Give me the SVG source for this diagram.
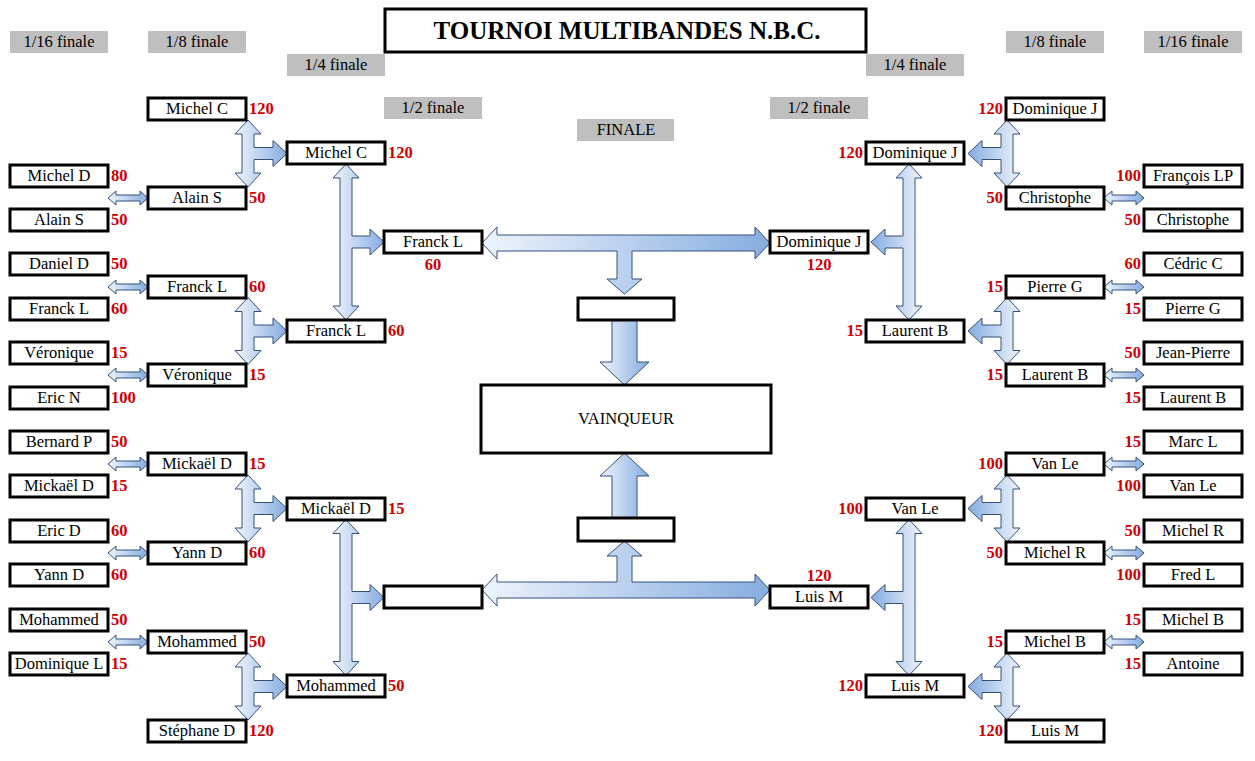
<svg xmlns="http://www.w3.org/2000/svg" xmlns:xlink="http://www.w3.org/1999/xlink" width="1255" height="761" viewBox="0 0 1255 761">
<style>
.b{fill:#fff;stroke:#000;stroke-width:3}
.t{font-family:"Liberation Serif",serif;font-size:16.5px;text-anchor:middle;fill:#000}
.s{font-family:"Liberation Serif",serif;font-size:16.5px;font-weight:bold;fill:#d00000}
.e{text-anchor:end}
.h{fill:#bfbfbf}
.a{fill:url(#g);stroke:#34507a;stroke-width:1}
</style>
<defs>
<linearGradient id="g" x1="0" y1="0" x2="1" y2="0"><stop offset="0" stop-color="#eef4fc"/><stop offset="1" stop-color="#86ace0"/></linearGradient>
<path id="p8" d="M0,-33.5 L13,-19.5 L6,-19.5 L6,-6 L25,-6 L25,-13 L39,0 L25,13 L25,6 L6,6 L6,19.5 L13,19.5 L0,33.5 L-13,19.5 L-6,19.5 L-6,-19.5 L-13,-19.5 Z"/>
<path id="p4" d="M0,-78 L13,-64 L6,-64 L6,-6 L24,-6 L24,-13 L38,0 L24,13 L24,6 L6,6 L6,64 L13,64 L0,78 L-13,64 L-6,64 L-6,-64 L-13,-64 Z"/>
<path id="ps" d="M0,0 L8,-7 L8,-3 L32,-3 L32,-7 L40,0 L32,7 L32,3 L8,3 L8,7 Z"/>
</defs>
<g id="headers">
<rect x="385" y="9" width="481" height="43" class="b"/>
<text x="627" y="39" class="t" style="font-size:25px;font-weight:bold">TOURNOI MULTIBANDES N.B.C.</text>
<rect class="h" x="10" y="31" width="98" height="22"/><text class="t" x="59" y="47">1/16 finale</text>
<rect class="h" x="148" y="31" width="98" height="22"/><text class="t" x="197" y="47">1/8 finale</text>
<rect class="h" x="287" y="54" width="98" height="22"/><text class="t" x="336" y="70">1/4 finale</text>
<rect class="h" x="384" y="97" width="98" height="22"/><text class="t" x="433" y="113">1/2 finale</text>
<rect class="h" x="577" y="119" width="97" height="22"/><text class="t" x="626" y="135">FINALE</text>
<rect class="h" x="770" y="97" width="98" height="22"/><text class="t" x="819" y="113">1/2 finale</text>
<rect class="h" x="866" y="54" width="98" height="22"/><text class="t" x="915" y="70">1/4 finale</text>
<rect class="h" x="1006" y="31" width="98" height="22"/><text class="t" x="1055" y="47">1/8 finale</text>
<rect class="h" x="1144" y="31" width="98" height="22"/><text class="t" x="1193" y="47">1/16 finale</text>
</g>
<g id="connectors" class="a">
<use href="#ps" transform="translate(108,198)"/><use href="#ps" transform="translate(108,287)"/><use href="#ps" transform="translate(108,375)"/><use href="#ps" transform="translate(108,464)"/><use href="#ps" transform="translate(108,553)"/><use href="#ps" transform="translate(108,642)"/>
<use href="#ps" transform="translate(1104,198)"/><use href="#ps" transform="translate(1104,287)"/><use href="#ps" transform="translate(1104,375)"/><use href="#ps" transform="translate(1104,464)"/><use href="#ps" transform="translate(1104,553)"/><use href="#ps" transform="translate(1104,642)"/>
<use href="#p8" transform="translate(248,153.5)"/><use href="#p8" transform="translate(248,331)"/><use href="#p8" transform="translate(248,508.5)"/><use href="#p8" transform="translate(248,686.5)"/>
<use href="#p8" transform="translate(1007,153.5) scale(-1,1)"/><use href="#p8" transform="translate(1007,331) scale(-1,1)"/><use href="#p8" transform="translate(1007,508.5) scale(-1,1)"/><use href="#p8" transform="translate(1007,686.5) scale(-1,1)"/>
<use href="#p4" transform="translate(346,242)"/><use href="#p4" transform="translate(346,597.5)"/>
<use href="#p4" transform="translate(909,242) scale(-1,1)"/><use href="#p4" transform="translate(909,597.5) scale(-1,1)"/>
<path d="M482,243 L497,227 L497,235 L755,235 L755,227 L770,243 L755,259 L755,251 L632,251 L632,279 L642,279 L624.5,294 L607,279 L617,279 L617,251 L497,251 L497,259 Z"/>
<path d="M482,590 L497,574 L497,582 L617,582 L617,556 L607,556 L624.5,541 L642,556 L632,556 L632,582 L755,582 L755,574 L770,590 L755,606 L755,598 L497,598 L497,606 Z"/>
<path d="M612,320 L637,320 L637,362 L649,362 L624.5,385 L600,362 L612,362 Z"/>
<path d="M612,518 L637,518 L637,476 L649,476 L624.5,453 L600,476 L612,476 Z"/>
</g>
<g id="center">
<rect class="b" x="578" y="298" width="96" height="22"/>
<rect class="b" x="578" y="518" width="96" height="23"/>
<rect class="b" x="481" y="385" width="290" height="68"/><text class="t" x="626" y="424">VAINQUEUR</text>
</g>
<g id="left16">
<rect class="b" x="10" y="165" width="98" height="22"/><text class="t" x="59" y="181">Michel D</text><text class="s" x="111" y="181">80</text>
<rect class="b" x="10" y="209" width="98" height="22"/><text class="t" x="59" y="225">Alain S</text><text class="s" x="111" y="225">50</text>
<rect class="b" x="10" y="253" width="98" height="22"/><text class="t" x="59" y="269">Daniel D</text><text class="s" x="111" y="269">50</text>
<rect class="b" x="10" y="298" width="98" height="22"/><text class="t" x="59" y="314">Franck L</text><text class="s" x="111" y="314">60</text>
<rect class="b" x="10" y="342" width="98" height="22"/><text class="t" x="59" y="358">Véronique</text><text class="s" x="111" y="358">15</text>
<rect class="b" x="10" y="387" width="98" height="22"/><text class="t" x="59" y="403">Eric N</text><text class="s" x="111" y="403">100</text>
<rect class="b" x="10" y="431" width="98" height="22"/><text class="t" x="59" y="447">Bernard P</text><text class="s" x="111" y="447">50</text>
<rect class="b" x="10" y="475" width="98" height="22"/><text class="t" x="59" y="491">Mickaël D</text><text class="s" x="111" y="491">15</text>
<rect class="b" x="10" y="520" width="98" height="22"/><text class="t" x="59" y="536">Eric D</text><text class="s" x="111" y="536">60</text>
<rect class="b" x="10" y="564" width="98" height="22"/><text class="t" x="59" y="580">Yann D</text><text class="s" x="111" y="580">60</text>
<rect class="b" x="10" y="609" width="98" height="22"/><text class="t" x="59" y="625">Mohammed</text><text class="s" x="111" y="625">50</text>
<rect class="b" x="10" y="653" width="98" height="22"/><text class="t" x="59" y="669">Dominique L</text><text class="s" x="111" y="669">15</text>
</g>
<g id="left8">
<rect class="b" x="148" y="98" width="98" height="22"/><text class="t" x="197" y="114">Michel C</text><text class="s" x="249" y="114">120</text>
<rect class="b" x="148" y="187" width="98" height="22"/><text class="t" x="197" y="203">Alain S</text><text class="s" x="249" y="203">50</text>
<rect class="b" x="148" y="276" width="98" height="22"/><text class="t" x="197" y="292">Franck L</text><text class="s" x="249" y="292">60</text>
<rect class="b" x="148" y="364" width="98" height="22"/><text class="t" x="197" y="380">Véronique</text><text class="s" x="249" y="380">15</text>
<rect class="b" x="148" y="453" width="98" height="22"/><text class="t" x="197" y="469">Mickaël D</text><text class="s" x="249" y="469">15</text>
<rect class="b" x="148" y="542" width="98" height="22"/><text class="t" x="197" y="558">Yann D</text><text class="s" x="249" y="558">60</text>
<rect class="b" x="148" y="631" width="98" height="22"/><text class="t" x="197" y="647">Mohammed</text><text class="s" x="249" y="647">50</text>
<rect class="b" x="148" y="720" width="98" height="22"/><text class="t" x="197" y="736">Stéphane D</text><text class="s" x="249" y="736">120</text>
</g>
<g id="left4">
<rect class="b" x="287" y="142" width="98" height="22"/><text class="t" x="336" y="158">Michel C</text><text class="s" x="388" y="158">120</text>
<rect class="b" x="287" y="320" width="98" height="22"/><text class="t" x="336" y="336">Franck L</text><text class="s" x="388" y="336">60</text>
<rect class="b" x="287" y="498" width="98" height="22"/><text class="t" x="336" y="514">Mickaël D</text><text class="s" x="388" y="514">15</text>
<rect class="b" x="287" y="675" width="98" height="22"/><text class="t" x="336" y="691">Mohammed</text><text class="s" x="388" y="691">50</text>
</g>
<g id="left2">
<rect class="b" x="384" y="231" width="98" height="22"/><text class="t" x="433" y="247">Franck L</text><text class="s" x="433" y="270" text-anchor="middle">60</text>
<rect class="b" x="384" y="586" width="98" height="22"/>
</g>
<g id="right2">
<rect class="b" x="770" y="231" width="98" height="22"/><text class="t" x="819" y="247">Dominique J</text><text class="s" x="819" y="270" text-anchor="middle">120</text>
<rect class="b" x="770" y="586" width="98" height="22"/><text class="t" x="819" y="602">Luis M</text><text class="s" x="819" y="581" text-anchor="middle">120</text>
</g>
<g id="right4">
<rect class="b" x="866" y="142" width="98" height="22"/><text class="t" x="915" y="158">Dominique J</text><text class="s e" x="863" y="158">120</text>
<rect class="b" x="866" y="320" width="98" height="22"/><text class="t" x="915" y="336">Laurent B</text><text class="s e" x="863" y="336">15</text>
<rect class="b" x="866" y="498" width="98" height="22"/><text class="t" x="915" y="514">Van Le</text><text class="s e" x="863" y="514">100</text>
<rect class="b" x="866" y="675" width="98" height="22"/><text class="t" x="915" y="691">Luis M</text><text class="s e" x="863" y="691">120</text>
</g>
<g id="right8">
<rect class="b" x="1006" y="98" width="98" height="22"/><text class="t" x="1055" y="114">Dominique J</text><text class="s e" x="1003" y="114">120</text>
<rect class="b" x="1006" y="187" width="98" height="22"/><text class="t" x="1055" y="203">Christophe</text><text class="s e" x="1003" y="203">50</text>
<rect class="b" x="1006" y="276" width="98" height="22"/><text class="t" x="1055" y="292">Pierre G</text><text class="s e" x="1003" y="292">15</text>
<rect class="b" x="1006" y="364" width="98" height="22"/><text class="t" x="1055" y="380">Laurent B</text><text class="s e" x="1003" y="380">15</text>
<rect class="b" x="1006" y="453" width="98" height="22"/><text class="t" x="1055" y="469">Van Le</text><text class="s e" x="1003" y="469">100</text>
<rect class="b" x="1006" y="542" width="98" height="22"/><text class="t" x="1055" y="558">Michel R</text><text class="s e" x="1003" y="558">50</text>
<rect class="b" x="1006" y="631" width="98" height="22"/><text class="t" x="1055" y="647">Michel B</text><text class="s e" x="1003" y="647">15</text>
<rect class="b" x="1006" y="720" width="98" height="22"/><text class="t" x="1055" y="736">Luis M</text><text class="s e" x="1003" y="736">120</text>
</g>
<g id="right16">
<rect class="b" x="1144" y="165" width="98" height="22"/><text class="t" x="1193" y="181">François LP</text><text class="s e" x="1141" y="181">100</text>
<rect class="b" x="1144" y="209" width="98" height="22"/><text class="t" x="1193" y="225">Christophe</text><text class="s e" x="1141" y="225">50</text>
<rect class="b" x="1144" y="253" width="98" height="22"/><text class="t" x="1193" y="269">Cédric C</text><text class="s e" x="1141" y="269">60</text>
<rect class="b" x="1144" y="298" width="98" height="22"/><text class="t" x="1193" y="314">Pierre G</text><text class="s e" x="1141" y="314">15</text>
<rect class="b" x="1144" y="342" width="98" height="22"/><text class="t" x="1193" y="358">Jean-Pierre</text><text class="s e" x="1141" y="358">50</text>
<rect class="b" x="1144" y="387" width="98" height="22"/><text class="t" x="1193" y="403">Laurent B</text><text class="s e" x="1141" y="403">15</text>
<rect class="b" x="1144" y="431" width="98" height="22"/><text class="t" x="1193" y="447">Marc L</text><text class="s e" x="1141" y="447">15</text>
<rect class="b" x="1144" y="475" width="98" height="22"/><text class="t" x="1193" y="491">Van Le</text><text class="s e" x="1141" y="491">100</text>
<rect class="b" x="1144" y="520" width="98" height="22"/><text class="t" x="1193" y="536">Michel R</text><text class="s e" x="1141" y="536">50</text>
<rect class="b" x="1144" y="564" width="98" height="22"/><text class="t" x="1193" y="580">Fred L</text><text class="s e" x="1141" y="580">100</text>
<rect class="b" x="1144" y="609" width="98" height="22"/><text class="t" x="1193" y="625">Michel B</text><text class="s e" x="1141" y="625">15</text>
<rect class="b" x="1144" y="653" width="98" height="22"/><text class="t" x="1193" y="669">Antoine</text><text class="s e" x="1141" y="669">15</text>
</g>
</svg>
